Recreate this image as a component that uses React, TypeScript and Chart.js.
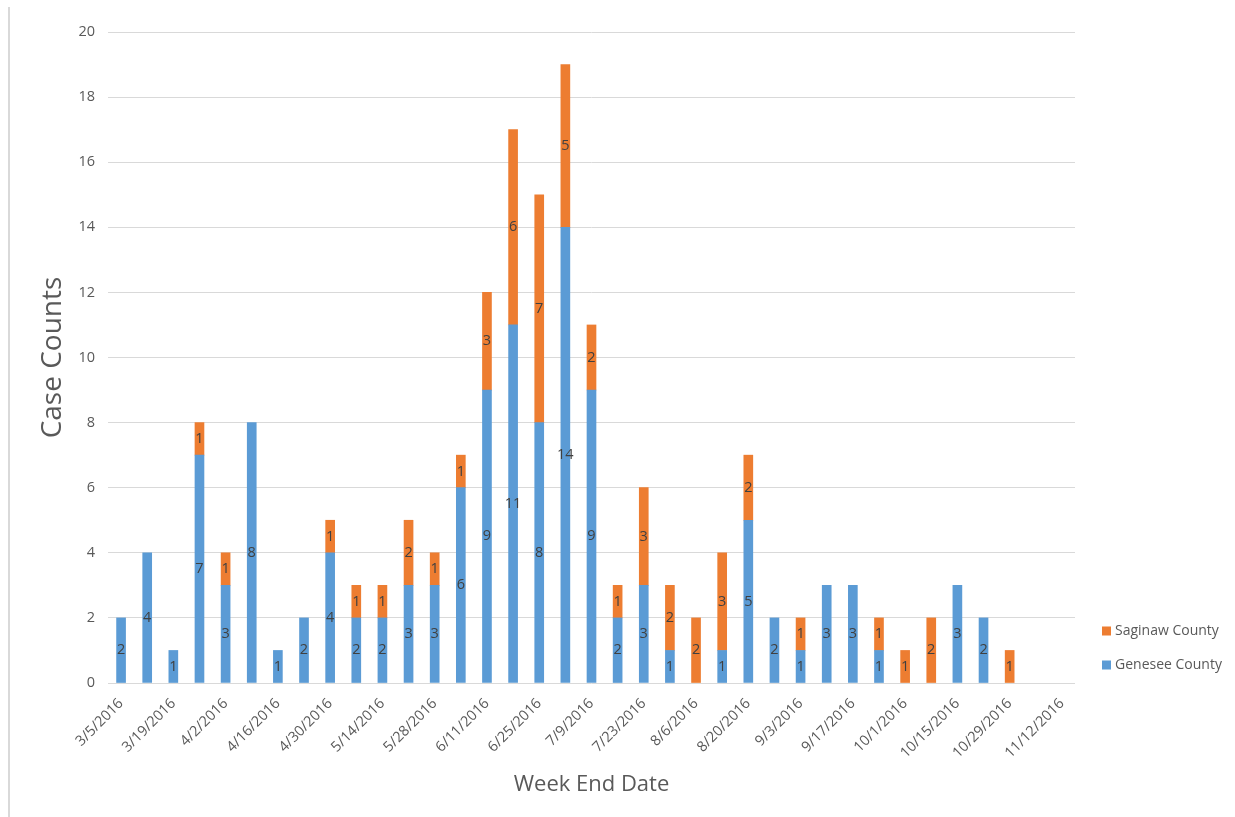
import React, { useEffect, useRef } from "react";
import { Chart, registerables } from "chart.js";

Chart.register(...registerables);

const weekEndDates = [
  "3/5/2016", "3/12/2016", "3/19/2016", "3/26/2016", "4/2/2016", "4/9/2016",
  "4/16/2016", "4/23/2016", "4/30/2016", "5/7/2016", "5/14/2016", "5/21/2016",
  "5/28/2016", "6/4/2016", "6/11/2016", "6/18/2016", "6/25/2016", "7/2/2016",
  "7/9/2016", "7/16/2016", "7/23/2016", "7/30/2016", "8/6/2016", "8/13/2016",
  "8/20/2016", "8/27/2016", "9/3/2016", "9/10/2016", "9/17/2016", "9/24/2016",
  "10/1/2016", "10/8/2016", "10/15/2016", "10/22/2016", "10/29/2016", "11/5/2016",
  "11/12/2016",
];

const geneseeCounts = [
  2, 4, 1, 7, 3, 8, 1, 2, 4, 2, 2, 3, 3, 6, 9, 11, 8, 14, 9, 2, 3, 1, 0, 1, 5, 2,
  1, 3, 3, 1, 0, 0, 3, 2, 0, 0, 0,
];

const saginawCounts = [
  0, 0, 0, 1, 1, 0, 0, 0, 1, 1, 1, 2, 1, 1, 3, 6, 7, 5, 2, 1, 3, 2, 2, 3, 2, 0,
  1, 0, 0, 1, 1, 2, 0, 0, 1, 0, 0,
];

const seriesNames = ["Genesee County", "Saginaw County"];
const seriesColors = ["#5B9BD5", "#ED7D31"];
const yMin = 0;
const yMax = 20;
const yStep = 2;

const FONT = "'Open Sans', sans-serif";
const TEXT = "#595959";

const hideZeros = (arr: number[]) => arr.map((v) => (v === 0 ? null : v));

const segmentLabels = {
  id: "segmentLabels",
  afterDatasetsDraw(chart: any) {
    const ctx = chart.ctx;
    ctx.save();
    ctx.font = `14.5px ${FONT}`;
    ctx.fillStyle = "#404040";
    ctx.textAlign = "center";
    ctx.textBaseline = "middle";
    chart.data.datasets.forEach((ds: any, i: number) => {
      const meta = chart.getDatasetMeta(i);
      meta.data.forEach((el: any, j: number) => {
        const v = ds.data[j];
        if (!v) return;
        const p = el.getProps(["x", "y", "base"], true);
        ctx.fillText(String(v), p.x, (p.y + p.base) / 2);
      });
    });
    ctx.restore();
  },
};

const sideLegend = {
  id: "sideLegend",
  afterDraw(chart: any) {
    const ctx = chart.ctx;
    const { right, bottom } = chart.chartArea;
    const rows = [
      { name: seriesNames[1], color: seriesColors[1], cy: bottom - 52 },
      { name: seriesNames[0], color: seriesColors[0], cy: bottom - 18 },
    ];
    ctx.save();
    ctx.font = `14px ${FONT}`;
    ctx.textAlign = "left";
    ctx.textBaseline = "middle";
    rows.forEach((r) => {
      ctx.fillStyle = r.color;
      ctx.fillRect(right + 27, r.cy - 4.5, 9, 9);
      ctx.fillStyle = TEXT;
      ctx.fillText(r.name, right + 40, r.cy);
    });
    ctx.restore();
  },
};

export default function App() {
  const ref = useRef<HTMLCanvasElement | null>(null);

  useEffect(() => {
    if (!ref.current) return;
    const chart = new Chart(ref.current, {
      type: "bar",
      data: {
        labels: weekEndDates,
        datasets: [
          {
            label: seriesNames[0],
            data: hideZeros(geneseeCounts),
            backgroundColor: seriesColors[0],
            barThickness: 9,
          },
          {
            label: seriesNames[1],
            data: hideZeros(saginawCounts),
            backgroundColor: seriesColors[1],
            barThickness: 9,
          },
        ],
      },
      options: {
        animation: false,
        responsive: false,
        devicePixelRatio: 1,
        layout: { padding: { left: 0, top: 32, right: 160, bottom: 0 } },
        plugins: {
          legend: { display: false },
          tooltip: { enabled: false },
        },
        scales: {
          x: {
            stacked: true,
            grid: { display: false },
            border: { display: false },
            ticks: {
              autoSkip: false,
              maxRotation: 45,
              minRotation: 45,
              padding: 4,
              color: TEXT,
              font: { family: FONT, size: 14.5 },
              callback: (_v: any, idx: number) =>
                idx % 2 === 0 ? weekEndDates[idx] : "",
            },
            title: {
              display: true,
              text: "Week End Date",
              color: TEXT,
              font: { family: FONT, size: 22 },
              padding: { top: 0, bottom: 19 },
            },
            afterFit: (scale: any) => {
              scale.height = 134;
            },
          },
          y: {
            stacked: true,
            min: yMin,
            max: yMax,
            grid: { color: "#D9D9D9", lineWidth: 1, drawTicks: false },
            border: { display: false },
            ticks: {
              stepSize: yStep,
              padding: 13,
              color: TEXT,
              font: { family: FONT, size: 14.5 },
            },
            title: {
              display: true,
              text: "Case Counts",
              color: TEXT,
              font: { family: FONT, size: 28 },
              padding: { top: 36, bottom: 0 },
            },
            afterFit: (scale: any) => {
              scale.width = 108;
            },
          },
        },
      },
      plugins: [segmentLabels, sideLegend],
    });
    return () => chart.destroy();
  }, []);

  return (
    <div
      style={{
        position: "fixed",
        left: 0,
        top: 0,
        width: 1235,
        height: 817,
        background: "#fff",
      }}
    >
      <div
        style={{
          position: "absolute",
          left: 8,
          top: 7,
          width: 2,
          height: 810,
          background: "#D9D9D9",
        }}
      />
      <canvas
        ref={ref}
        width={1235}
        height={817}
        style={{ position: "absolute", left: 0, top: 0, width: 1235, height: 817 }}
      />
    </div>
  );
}
